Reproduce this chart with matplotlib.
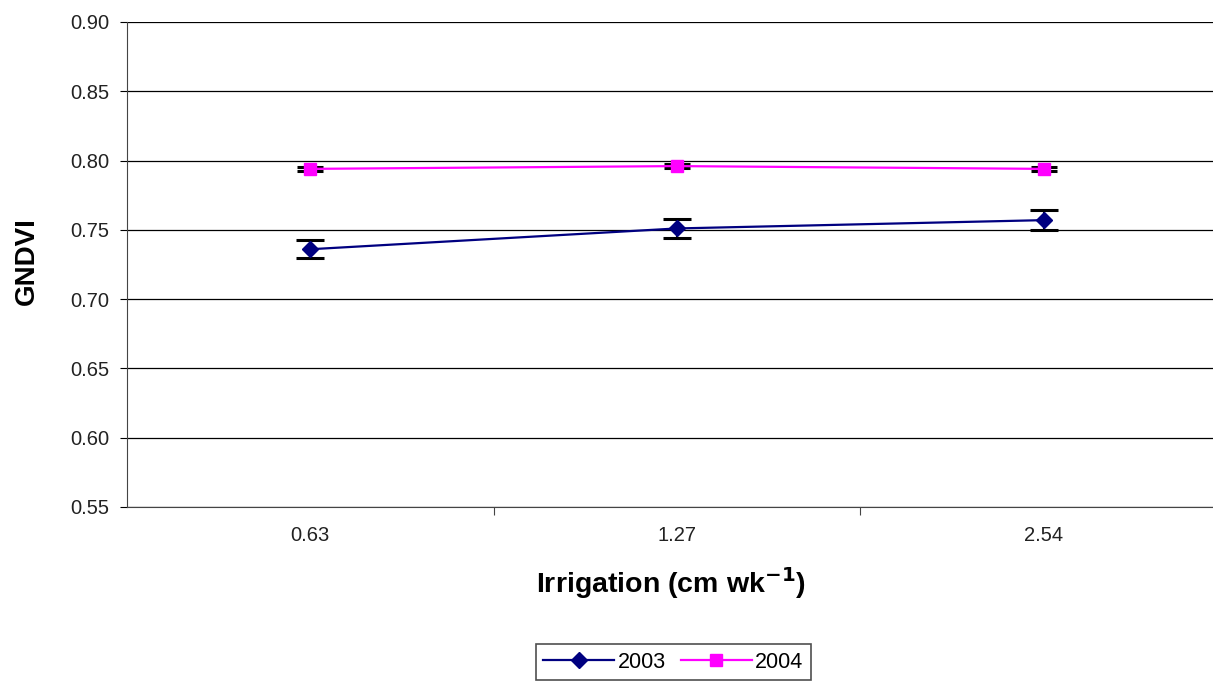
import matplotlib
matplotlib.use("Agg")
import matplotlib.pyplot as plt

# GNDVI by irrigation level, two seasons
irrigation = ["0.63", "1.27", "2.54"]
gndvi_2003 = [0.736, 0.751, 0.757]
err_2003 = [0.0065, 0.007, 0.007]
gndvi_2004 = [0.794, 0.796, 0.794]
err_2004 = [0.0015, 0.0015, 0.0015]
yticks = [0.55, 0.60, 0.65, 0.70, 0.75, 0.80, 0.85, 0.90]

plt.rcParams["font.family"] = ["Liberation Sans", "DejaVu Sans"]

fig = plt.figure(figsize=(12.13, 6.85), dpi=100)
ax = fig.add_axes([0.1047, 0.2599, 0.9068, 0.708])

x = [i + 0.5 for i in range(len(irrigation))]

ax.errorbar(x, gndvi_2003, yerr=err_2003, color="#000080", marker="D",
            markersize=12, linewidth=1.6, ecolor="black", elinewidth=1.5,
            capsize=10, capthick=2.2, label="2003", zorder=3)
ax.errorbar(x, gndvi_2004, yerr=err_2004, color="#FF00FF", marker="s",
            markersize=12, linewidth=1.6, ecolor="black", elinewidth=1.5,
            capsize=9.5, capthick=2.2, label="2004", zorder=3)

ax.set_xlim(0, 3)
ax.set_ylim(0.55, 0.90)
ax.set_yticks(yticks)
ax.set_yticklabels([f"{v:.2f}" for v in yticks])
ax.yaxis.grid(True, color="black", linewidth=0.9)
ax.set_axisbelow(True)

# category labels sit between the boundary tick marks
ax.set_xticks([1, 2])
ax.set_xticklabels([])
ax.set_xticks(x, minor=True)
ax.set_xticklabels(irrigation, minor=True)
ax.tick_params(axis="x", which="minor", length=0, pad=14, labelsize=14.5,
               labelcolor="#222222")
ax.tick_params(axis="x", which="major", length=6, direction="out", color="#444444")
ax.tick_params(axis="y", length=5, direction="out", labelsize=14.5, pad=8,
               labelcolor="#222222")

for side in ["top", "right"]:
    ax.spines[side].set_visible(False)
ax.spines["left"].set_color("#444444")
ax.spines["bottom"].set_color("#444444")

fig.text(0.0223, 0.619, "GNDVI", fontsize=20, fontweight="bold",
         rotation=90, ha="center", va="center")
fig.text(0.553, 0.149, "Irrigation (cm wk$^{\\mathbf{-1}}$)", fontsize=20.5,
         fontweight="bold", ha="center", va="center")

handles, labels = ax.get_legend_handles_labels()
handles = [h[0] for h in handles]
for h in handles:
    h.set_markersize(8)
leg = fig.legend(handles, labels, loc="center", bbox_to_anchor=(0.555, 0.033),
                 ncol=2, frameon=True, fancybox=False, edgecolor="#222222",
                 fontsize=15.5, handlelength=3.3, columnspacing=0.7,
                 handletextpad=0.15, borderpad=0.35, borderaxespad=0)
leg.get_frame().set_linewidth(1.2)

fig.savefig("out.png", dpi=100)
